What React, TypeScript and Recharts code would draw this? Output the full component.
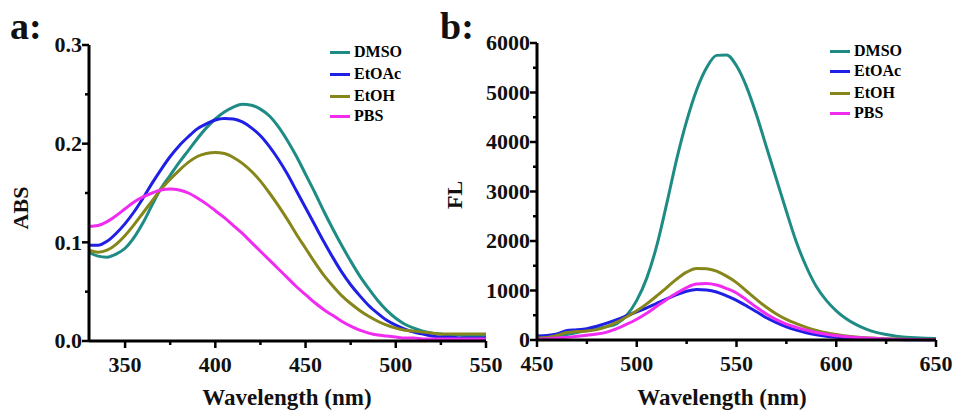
import { LineChart, Line, XAxis, YAxis } from 'recharts';

const absWavelength = [
  330, 335, 340, 345, 350, 355, 360, 365, 370, 375, 380, 385, 390, 395, 400, 405, 410, 415, 420, 425, 430, 435,
  440, 445, 450, 455, 460, 465, 470, 475, 480, 485, 490, 495, 500, 505, 510, 515, 520, 525, 530, 535, 540, 545, 550,
];
const absDMSO = [
  0.09, 0.086, 0.085, 0.088, 0.094, 0.105, 0.12, 0.138, 0.155, 0.168, 0.181, 0.193, 0.205, 0.216, 0.225, 0.232,
  0.237, 0.24, 0.239, 0.235, 0.228, 0.217, 0.203, 0.187, 0.169, 0.151, 0.132, 0.114, 0.097, 0.081, 0.066, 0.053,
  0.041, 0.031, 0.023, 0.017, 0.013, 0.01, 0.008, 0.007, 0.006, 0.006, 0.005, 0.005, 0.005,
];
const absEtOAc = [
  0.097, 0.097, 0.101, 0.109, 0.119, 0.131, 0.145, 0.16, 0.174, 0.187, 0.198, 0.207, 0.215, 0.22, 0.224, 0.2255,
  0.225, 0.222, 0.216, 0.208, 0.197, 0.184, 0.169, 0.152, 0.135, 0.118, 0.101, 0.085, 0.07, 0.057, 0.046, 0.036,
  0.028, 0.021, 0.016, 0.012, 0.009, 0.007, 0.005, 0.004, 0.004, 0.003, 0.003, 0.003, 0.003,
];
const absEtOH = [
  0.092, 0.09, 0.092, 0.098, 0.107, 0.118, 0.13, 0.142, 0.154, 0.164, 0.173, 0.181, 0.187, 0.19, 0.191, 0.19,
  0.186, 0.18, 0.172, 0.162, 0.15, 0.137, 0.123, 0.108, 0.094, 0.08, 0.067, 0.056, 0.046, 0.038, 0.031, 0.025,
  0.02, 0.016, 0.013, 0.011, 0.01, 0.009, 0.008, 0.007, 0.007, 0.007, 0.007, 0.007, 0.007,
];
const absPBS = [
  0.116, 0.117, 0.121, 0.127, 0.134, 0.141, 0.146, 0.15, 0.153, 0.154, 0.153, 0.15, 0.145, 0.139, 0.132, 0.125,
  0.117, 0.109, 0.1, 0.091, 0.082, 0.073, 0.064, 0.055, 0.047, 0.039, 0.032, 0.026, 0.02, 0.015, 0.011, 0.008,
  0.006, 0.005, 0.004, 0.003, 0.003, 0.002, 0.002, 0.002, 0.002, 0.002, 0.002, 0.002, 0.002,
];

const flWavelength = [
  450, 455, 460, 465, 470, 475, 480, 485, 490, 495, 500, 505, 510, 515, 520, 525, 530, 535, 540, 545, 550, 555,
  560, 565, 570, 575, 580, 585, 590, 595, 600, 605, 610, 615, 620, 625, 630, 635, 640, 645, 650,
];
const flDMSO = [
  50, 60, 80, 110, 150, 190, 230, 270, 330, 500, 800, 1250, 1900, 2750, 3650, 4420, 5050, 5500, 5750, 5760, 5540,
  5120, 4550, 3900, 3250, 2600, 1980, 1480, 1080, 800, 590, 430, 310, 220, 155, 110, 78, 57, 43, 34, 28,
];
const flEtOAc = [
  80, 90, 120, 190, 205, 230, 280, 340, 410, 490, 570, 650, 740, 830, 915, 985, 1020, 1010, 970, 890, 800, 690,
  570, 450, 350, 265, 200, 145, 105, 75, 55, 40, 30, 22, 16, 12, 9, 7, 6, 5, 5,
];
const flEtOH = [
  40, 50, 90, 150, 170, 180, 210, 270, 360, 470, 590, 730, 890, 1060, 1230, 1370, 1445, 1440, 1390, 1290, 1160,
  990, 820, 660, 525, 415, 330, 255, 195, 145, 110, 80, 60, 45, 35, 25, 18, 13, 10, 8, 6,
];
const flPBS = [
  20, 25, 40, 55, 75, 95, 120, 160, 230, 320, 420, 540, 680, 820, 950, 1060, 1130, 1140, 1110, 1040, 950, 810,
  660, 525, 410, 320, 255, 200, 150, 115, 88, 68, 50, 38, 28, 20, 15, 11, 8, 6, 5,
];

const absXTicks = [350, 375, 400, 425, 450, 475, 500, 525, 550];
const absYTicks = [0, 0.05, 0.1, 0.15, 0.2, 0.25, 0.3];
const flXTicks = [450, 475, 500, 525, 550, 575, 600, 625, 650];
const flYTicks = [0, 500, 1000, 1500, 2000, 2500, 3000, 3500, 4000, 4500, 5000, 5500, 6000];

const solvents = ['DMSO', 'EtOAc', 'EtOH', 'PBS'];
const colors: Record<string, string> = {
  DMSO: '#1e8c84',
  EtOAc: '#1f1fe6',
  EtOH: '#86861a',
  PBS: '#f02cf0',
};

const absData = absWavelength.map((wl, i) => ({
  wl,
  DMSO: absDMSO[i],
  EtOAc: absEtOAc[i],
  EtOH: absEtOH[i],
  PBS: absPBS[i],
}));
const flData = flWavelength.map((wl, i) => ({
  wl,
  DMSO: flDMSO[i],
  EtOAc: flEtOAc[i],
  EtOH: flEtOH[i],
  PBS: flPBS[i],
}));

const serif = '"Liberation Serif", "Times New Roman", serif';
const tickFont = { fontFamily: serif, fontWeight: 700, fontSize: 22, fill: '#111' };

function makeXTick(isMajor: (v: number) => boolean) {
  return (props: any) => {
    const { x, y, payload } = props;
    const major = isMajor(payload.value);
    return (
      <g>
        <line x1={x} x2={x} y1={y} y2={y + (major ? 7 : 4)} stroke="#000" strokeWidth={2.5} />
        {major && (
          <text x={x} y={y + 31} textAnchor="middle" {...tickFont}>
            {payload.value}
          </text>
        )}
      </g>
    );
  };
}

function makeYTick(isMajor: (v: number) => boolean, fmt: (v: number) => string) {
  return (props: any) => {
    const { x, y, payload } = props;
    const major = isMajor(payload.value);
    return (
      <g>
        <line x1={x} x2={x - (major ? 7 : 4)} y1={y} y2={y} stroke="#000" strokeWidth={2.5} />
        {major && (
          <text x={x - 7} y={y} dy="0.33em" textAnchor="end" {...tickFont}>
            {fmt(payload.value)}
          </text>
        )}
      </g>
    );
  };
}

function LegendBox({ left, top, gaps }: { left: number; top: number; gaps: number[] }) {
  return (
    <div style={{ position: 'absolute', left, top, fontFamily: serif, fontWeight: 700, fontSize: 16 }}>
      {solvents.map((s, i) => (
        <div key={s} style={{ display: 'flex', alignItems: 'center', height: 20, marginTop: gaps[i] }}>
          <span style={{ display: 'inline-block', width: 20, height: 3, background: colors[s], marginRight: 4 }} />
          <span>{s}</span>
        </div>
      ))}
    </div>
  );
}

const textStyle = {
  position: 'absolute' as const,
  fontFamily: serif,
  fontWeight: 700,
  color: '#111',
  whiteSpace: 'nowrap' as const,
};

export default function App() {
  return (
    <div style={{ position: 'absolute', left: 0, top: 0, width: 955, height: 410, background: '#fff', overflow: 'hidden' }}>
      <div style={{ position: 'absolute', left: 0, top: 0 }}>
        <LineChart width={520} height={410} data={absData} margin={{ top: 45, right: 34, bottom: 39, left: 29 }}>
          <XAxis
            dataKey="wl"
            type="number"
            domain={[330, 550]}
            ticks={absXTicks}
            allowDataOverflow
            height={30}
            tickSize={0}
            tickMargin={0}
            tickLine={false}
            axisLine={{ stroke: '#000', strokeWidth: 3 }}
            tick={makeXTick((v) => v % 50 === 0)}
          />
          <YAxis
            type="number"
            domain={[0, 0.3]}
            ticks={absYTicks}
            width={60}
            tickSize={0}
            tickMargin={0}
            tickLine={false}
            axisLine={{ stroke: '#000', strokeWidth: 3 }}
            tick={makeYTick((v) => Math.round(v * 100) % 10 === 0, (v) => v.toFixed(1))}
          />
          {solvents.map((s) => (
            <Line key={s} type="monotone" dataKey={s} stroke={colors[s]} strokeWidth={3} dot={false} isAnimationActive={false} />
          ))}
        </LineChart>
      </div>
      <div style={{ position: 'absolute', left: 480, top: 0 }}>
        <LineChart width={475} height={410} data={flData} margin={{ top: 43, right: 19, bottom: 40, left: 0 }}>
          <XAxis
            dataKey="wl"
            type="number"
            domain={[450, 650]}
            ticks={flXTicks}
            height={30}
            tickSize={0}
            tickMargin={0}
            tickLine={false}
            axisLine={{ stroke: '#000', strokeWidth: 3 }}
            tick={makeXTick((v) => v % 50 === 0)}
          />
          <YAxis
            type="number"
            domain={[0, 6000]}
            ticks={flYTicks}
            width={57}
            tickSize={0}
            tickMargin={0}
            tickLine={false}
            axisLine={{ stroke: '#000', strokeWidth: 3 }}
            tick={makeYTick((v) => v % 1000 === 0, (v) => String(v))}
          />
          {solvents.map((s) => (
            <Line key={s} type="monotone" dataKey={s} stroke={colors[s]} strokeWidth={3} dot={false} isAnimationActive={false} />
          ))}
        </LineChart>
      </div>

      <div style={{ ...textStyle, left: 10, top: 4, fontSize: 38 }}>a:</div>
      <div style={{ ...textStyle, left: 440, top: 4, fontSize: 38 }}>b:</div>

      <div style={{ ...textStyle, left: 21, top: 208, fontSize: 22, transform: 'translate(-50%, -50%) rotate(-90deg)' }}>ABS</div>
      <div style={{ ...textStyle, left: 455, top: 195, fontSize: 22, transform: 'translate(-50%, -50%) rotate(-90deg)' }}>FL</div>

      <div style={{ ...textStyle, left: 287, top: 398, fontSize: 23, transform: 'translate(-50%, -50%)' }}>Wavelength (nm)</div>
      <div style={{ ...textStyle, left: 722, top: 398, fontSize: 23, transform: 'translate(-50%, -50%)' }}>Wavelength (nm)</div>

      <LegendBox left={330} top={42} gaps={[0, 2, 2, 0]} />
      <LegendBox left={830} top={41} gaps={[0, 0, 2, 0]} />
    </div>
  );
}
